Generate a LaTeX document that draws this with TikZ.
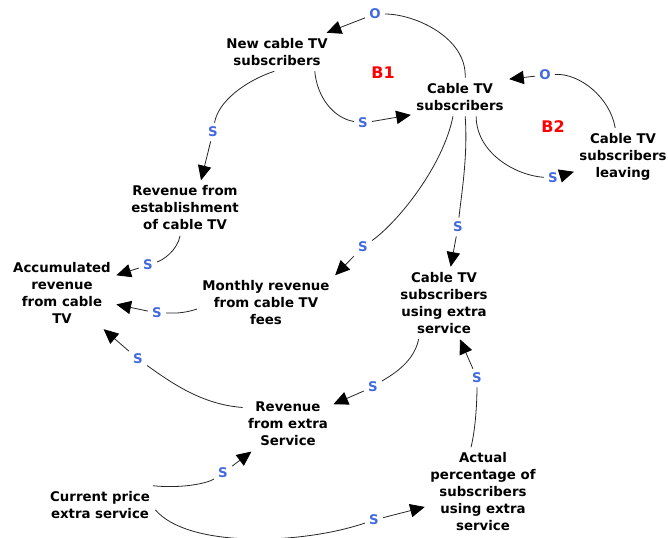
\documentclass[tikz,border=0pt]{standalone}
\usepackage{fontspec}
\setmainfont{DejaVu Sans}
\usetikzlibrary{arrows.meta}
\definecolor{polblue}{RGB}{65,105,225}
\tikzset{
  varnode/.style={align=center, font=\bfseries\fontsize{10}{12.75}\selectfont, inner sep=4pt},
  polnode/.style={text=polblue, font=\bfseries\fontsize{10}{11}\selectfont, inner sep=3pt},
  loopnode/.style={text=red, font=\bfseries\fontsize{12}{13}\selectfont},
  link/.style={line width=0.6pt, black!85},
  linkarr/.style={line width=0.6pt, black!85, -{Triangle[length=11pt,width=10pt,color=black]}},
}
\begin{document}
\begin{tikzpicture}[x=0.75pt,y=0.75pt,yscale=-1,xscale=1]
\path[use as bounding box] (0,0) rectangle (668,537);

% Text Node
\node[varnode] (newsub) at (277,52) {New cable TV\\subscribers};
% Text Node
\node[varnode] (cab) at (460,97) {Cable TV\\subscribers};
% Text Node
\node[varnode] (leave) at (623,157) {Cable TV\\subscribers\\leaving};
% Text Node
\node[varnode] (revest) at (185,208) {Revenue from\\establishment\\of cable TV};
% Text Node
\node[varnode] (accum) at (62,293) {Accumulated\\revenue\\from cable\\TV};
% Text Node
\node[varnode] (monthly) at (266,303) {Monthly revenue\\from cable TV\\fees};
% Text Node
\node[varnode] (usingx) at (444,303) {Cable TV\\subscribers\\using extra\\service};
% Text Node
\node[varnode] (revx) at (288,424) {Revenue\\from extra\\Service};
% Text Node
\node[varnode] (price) at (100,505) {Current price\\extra service};
% Text Node
\node[varnode] (actual) at (483,492) {Actual\\percentage of\\subscribers\\using extra\\service};

% Loop labels
\node[loopnode] (b1) at (383,73) {B1};
\node[loopnode] (b2) at (553,127) {B2};

% Polarity labels
\node[polnode] (o1) at (375,14) {O};
\node[polnode] (s2) at (363,123) {S};
\node[polnode] (o3) at (545,75) {O};
\node[polnode] (s4) at (553,178) {S};
\node[polnode] (s5) at (213,132) {S};
\node[polnode] (s6) at (148,265) {S};
\node[polnode] (s7) at (157,313) {S};
\node[polnode] (s8) at (363,247) {S};
\node[polnode] (s9) at (458,227) {S};
\node[polnode] (s10) at (373,387) {S};
\node[polnode] (s11) at (477,378) {S};
\node[polnode] (s12) at (138,359) {S};
\node[polnode] (s13) at (223,473) {S};
\node[polnode] (s14) at (374,520) {S};

%Curve Lines
\draw[link] (cab.75) .. controls +(2,-40) and +(40,0) .. (o1);
\draw[linkarr] (o1) -- (newsub);
%Curve Lines
\draw[link] (newsub.-27) .. controls +(2,25) and +(-30,-5) .. (s2);
\draw[linkarr] (s2) -- (cab.-160);
%Curve Lines
\draw[link] (leave.105) .. controls +(-5,-30) and +(35,-2) .. (o3);
\draw[linkarr] (o3) -- (cab.20);
%Curve Lines
\draw[link] (cab.-50) .. controls +(0,35) and +(-40,-3) .. (s4);
\draw[linkarr] (s4) -- (leave);
%Curve Lines
\draw[link] (newsub.-98) .. controls +(-30,10) and +(5,-30) .. (s5);
\draw[linkarr] (s5) -- (revest.60);
%Curve Lines
\draw[link] (revest.-100) .. controls +(-3,15) and +(15,-5) .. (s6);
\draw[linkarr] (s6) -- (accum);
%Curve Lines
\draw[link] (monthly.185) .. controls +(-15,5) and +(15,0) .. (s7);
\draw[linkarr] (s7) -- (accum);
%Curve Lines
\draw[link] (cab.-110) .. controls +(-10,50) and +(35,-25) .. (s8);
\draw[linkarr] (s8) -- (monthly.north east);
%Curve Lines
\draw[link] (cab.-75) .. controls +(3,40) and +(3,-30) .. (s9);
\draw[linkarr] (s9) -- (usingx);
%Curve Lines
\draw[link] (usingx.-125) .. controls +(-5,25) and +(15,-10) .. (s10);
\draw[linkarr] (s10) -- (revx);
%Curve Lines
\draw[link] (actual.105) .. controls +(5,-20) and +(0,20) .. (s11);
\draw[linkarr] (s11) -- (usingx);
%Curve Lines
\draw[link] (revx.160) .. controls +(-40,-3) and +(35,25) .. (s12);
\draw[linkarr] (s12) -- (accum);
%Curve Lines
\draw[link] (price.20) .. controls +(30,3) and +(-15,10) .. (s13);
\draw[linkarr] (s13) -- (revx);
%Curve Lines
\draw[link] (price.-5) .. controls +(32,38) and +(-74,25) .. (s14);
\draw[linkarr] (s14) -- (actual);

\end{tikzpicture}
\end{document}
